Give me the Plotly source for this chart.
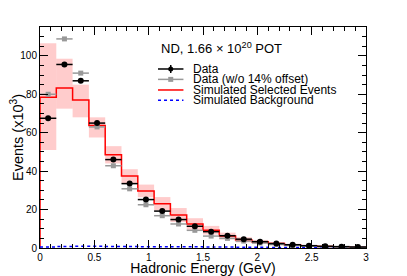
import plotly.graph_objects as go

bin_edges = [round(0.15 * i, 2) for i in range(21)]
bin_centers = [round(0.075 + 0.15 * i, 3) for i in range(20)]

data_vals = [67.5, 95.5, 87.0, 65.0, 46.0, 33.5, 25.2, 19.2, 14.8, 11.3,
             8.5, 6.4, 4.6, 3.3, 2.3, 1.7, 1.2, 0.9, 0.7, 0.5]
data_nooffset = [80.0, 108.8, 91.0, 63.0, 42.8, 30.8, 22.5, 16.8, 12.5, 9.2,
                 6.2, 5.0, 3.6, 2.6, 1.8, 1.3, 0.9, 0.6, 0.5, 0.4]
mc_vals = [78.5, 83.2, 77.0, 63.8, 48.5, 37.5, 29.7, 23.0, 17.2, 12.5,
           9.2, 6.2, 4.2, 3.2, 2.3, 1.6, 1.1, 0.8, 0.6, 0.4]
mc_hi = [106.5, 98.5, 85.0, 68.0, 53.0, 41.0, 33.0, 26.5, 20.8, 15.5,
         11.5, 8.0, 5.6, 4.2, 3.1, 2.2, 1.6, 1.2, 0.9, 0.7]
mc_lo = [51.0, 72.5, 68.0, 57.5, 44.0, 33.5, 26.4, 19.5, 13.5, 9.5,
         7.0, 4.5, 2.9, 2.2, 1.5, 1.0, 0.7, 0.5, 0.4, 0.2]
bkg_vals = [0.5, 0.8, 0.9, 0.9, 0.8, 0.8, 0.7, 0.7, 0.6, 0.6,
            0.5, 0.5, 0.4, 0.4, 0.3, 0.3, 0.3, 0.2, 0.2, 0.2]
y_ticks = [0, 20, 40, 60, 80, 100]
x_ticks = [0, 0.5, 1, 1.5, 2, 2.5, 3]
legend_labels = ["Data", "Data (w/o 14% offset)", "Simulated Selected Events", "Simulated Background"]
legend_colors = ["black", "#999999", "#ff0000", "#0000ff"]

font = "Liberation Sans, Arial, sans-serif"
fig = go.Figure()

# MC uncertainty band
fig.add_trace(go.Bar(
    x=bin_centers, base=mc_lo, y=[h - l for h, l in zip(mc_hi, mc_lo)],
    width=0.15, marker=dict(color="rgba(255,0,0,0.2)", line=dict(width=0)),
    showlegend=False, hoverinfo="skip"))

# MC step line
fig.add_trace(go.Scatter(
    x=[0] + bin_edges, y=[0] + mc_vals + [mc_vals[-1]],
    mode="lines", line=dict(color="#ff0000", width=1.5, shape="hv"),
    name="Simulated Selected Events", showlegend=False))

# Background
fig.add_trace(go.Scatter(
    x=bin_edges, y=bkg_vals + [bkg_vals[-1]],
    mode="lines", line=dict(color="#0000ff", width=1.5, shape="hv", dash="dot"),
    name="Simulated Background", showlegend=False))

# Data without offset
fig.add_trace(go.Scatter(
    x=bin_centers, y=data_nooffset, mode="markers",
    marker=dict(symbol="square", size=5, color="#999999"),
    error_x=dict(type="constant", value=0.075, color="#999999", thickness=1.5, width=0),
    name="Data (w/o 14% offset)", showlegend=False))

# Data
fig.add_trace(go.Scatter(
    x=bin_centers, y=data_vals, mode="markers",
    marker=dict(symbol="circle", size=6, color="black"),
    error_x=dict(type="constant", value=0.075, color="black", thickness=1.5, width=0),
    name="Data", showlegend=False))

# Manual legend (compact ROOT-style spacing)
px_x = 1 / 326
px_y = 1 / 221
leg_rows = [0.81, 0.763, 0.715, 0.668]
line_x0, line_x1, text_x = 0.362, 0.44, 0.462
for i, (lab, col, yy) in enumerate(zip(legend_labels, legend_colors, leg_rows)):
    dash = "dot" if i == 3 else "solid"
    fig.add_shape(type="line", xref="paper", yref="paper", x0=line_x0, x1=line_x1, y0=yy, y1=yy,
                  line=dict(color=col, width=1.5, dash=dash))
    xm = (line_x0 + line_x1) / 2
    if i == 0:
        fig.add_shape(type="circle", xref="paper", yref="paper",
                      x0=xm - 2.5 * px_x, x1=xm + 2.5 * px_x, y0=yy - 2.5 * px_y, y1=yy + 2.5 * px_y,
                      fillcolor=col, line=dict(color=col, width=0))
        fig.add_shape(type="line", xref="paper", yref="paper", x0=xm, x1=xm,
                      y0=yy - 4 * px_y, y1=yy + 4 * px_y, line=dict(color=col, width=1.5))
    elif i == 1:
        fig.add_shape(type="rect", xref="paper", yref="paper",
                      x0=xm - 2.5 * px_x, x1=xm + 2.5 * px_x, y0=yy - 2.5 * px_y, y1=yy + 2.5 * px_y,
                      fillcolor=col, line=dict(color=col, width=0))
    fig.add_annotation(x=text_x, y=yy, xref="paper", yref="paper", xanchor="left", yanchor="middle",
                       text=lab, showarrow=False, font=dict(family=font, size=12, color="black"))

fig.add_annotation(x=0.366, y=0.905, xref="paper", yref="paper", xanchor="left", yanchor="middle",
                   text="ND, 1.66 × 10<sup>20</sup> POT", showarrow=False,
                   font=dict(family=font, size=13, color="black"))

axis_common = dict(showline=True, linecolor="black", linewidth=1, mirror="ticks", automargin=False,
                   ticks="inside", ticklen=8, tickcolor="black", showgrid=False, zeroline=False,
                   tickfont=dict(family=font, size=10, color="black"))

# The page body adds an 8px offset; figure is sized to fit the 407x276 window.
fig.update_layout(
    width=399, height=268,
    margin=dict(l=32, r=41, t=19, b=28),
    paper_bgcolor="white", plot_bgcolor="white",
    barmode="overlay", showlegend=False,
    font=dict(family=font, color="black"),
    xaxis=dict(range=[0, 3], tickvals=x_ticks, ticktext=[str(v) for v in x_ticks],
               minor=dict(ticks="inside", dtick=0.1, ticklen=4, tickcolor="black"),
               title=dict(text="Hadronic Energy (GeV)", font=dict(family=font, size=14), standoff=1),
               **axis_common),
    yaxis=dict(range=[0, 115], tickvals=y_ticks,
               minor=dict(ticks="inside", dtick=5, ticklen=4, tickcolor="black"),
               title=dict(text="Events (x10<sup>3</sup>)", font=dict(family=font, size=14.5), standoff=3),
               **axis_common),
)

fig.write_html("out.html")
